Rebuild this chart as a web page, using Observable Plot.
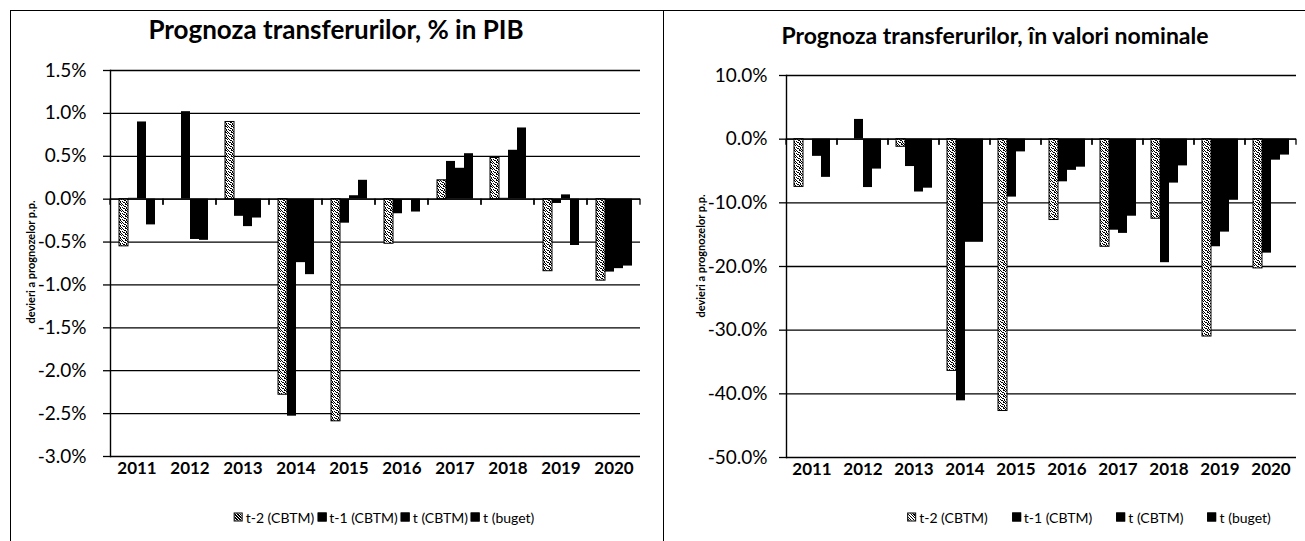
<!DOCTYPE html>
<html>
<head>
<meta charset="utf-8">
<script src="https://cdn.jsdelivr.net/npm/d3@7"></script>
<script src="https://cdn.jsdelivr.net/npm/@observablehq/plot@0.6"></script>
<style>
  html, body { margin: 0; padding: 0; background: #fff; }
  #page { position: relative; width: 1305px; height: 541px; overflow: hidden; font-family: Lato, "Open Sans", sans-serif; color: #000; }
  .panel { position: absolute; box-sizing: border-box; }
  .chart { position: absolute; top: 0; }
  .title { position: absolute; font-weight: 700; white-space: nowrap; transform: translate(-50%, -50%); }
  .ytitle { position: absolute; font-weight: 700; font-size: 11px; white-space: nowrap; transform: translate(-50%, -50%) rotate(-90deg); }
  .legend { position: absolute; display: flex; align-items: center; font-size: 14px; white-space: nowrap; transform: translate(-50%, -50%); }
  .legend .item { display: flex; align-items: center; }
  .legend .sw { flex: 0 0 auto; display: inline-block; width: 9px; height: 9px; margin-right: 3px; box-sizing: border-box; border: 1px solid #000; }
</style>
</head>
<body>
<svg width="0" height="0" style="position:absolute">
  <defs>
    <pattern id="speckle" patternUnits="userSpaceOnUse" width="6" height="6">
      <rect width="6" height="6" fill="#fff"></rect>
      <rect x="0" y="0" width="1" height="1" fill="#000"></rect>
      <rect x="3" y="0" width="2" height="1" fill="#000"></rect>
      <rect x="1" y="1" width="1" height="1" fill="#000"></rect>
      <rect x="5" y="1" width="1" height="1" fill="#000"></rect>
      <rect x="2" y="2" width="2" height="1" fill="#000"></rect>
      <rect x="0" y="3" width="1" height="1" fill="#000"></rect>
      <rect x="4" y="3" width="1" height="2" fill="#000"></rect>
      <rect x="1" y="4" width="2" height="1" fill="#000"></rect>
      <rect x="3" y="5" width="1" height="1" fill="#000"></rect>
      <rect x="5" y="5" width="1" height="1" fill="#000"></rect>
    </pattern>
  </defs>
</svg>
<div id="page"></div>
<script>
// ---------- data ----------
const years = [2011, 2012, 2013, 2014, 2015, 2016, 2017, 2018, 2019, 2020];
const series = ["t-2 (CBTM)", "t-1 (CBTM)", "t (CBTM)", "t (buget)"];

// Left chart: % in PIB (p.p. deviations)
const pibT2    = [-0.55, 0.00, 0.90, -2.28, -2.59, -0.52, 0.22, 0.48, -0.84, -0.95];
const pibT1    = [ 0.01, 1.02, -0.20, -2.53, -0.28, -0.17, 0.44, 0.01, -0.05, -0.85];
const pibT     = [ 0.90, -0.47, -0.32, -0.74, 0.04, -0.01, 0.36, 0.57, 0.05, -0.81];
const pibBuget = [-0.30, -0.48, -0.22, -0.88, 0.22, -0.15, 0.53, 0.83, -0.54, -0.78];
const pibTicks = [1.5, 1.0, 0.5, 0.0, -0.5, -1.0, -1.5, -2.0, -2.5, -3.0];

// Right chart: nominal values (%)
const nomT2    = [-7.5, 0.0, -1.2, -36.4, -42.7, -12.7, -16.9, -12.5, -31.0, -20.3];
const nomT1    = [ 0.0, 3.1, -4.3, -41.1, -9.1, -6.7, -14.3, -19.4, -16.9, -17.9];
const nomT     = [-2.7, -7.6, -8.3, -16.2, -2.0, -4.9, -14.8, -6.9, -14.6, -3.3];
const nomBuget = [-6.0, -4.7, -7.7, -16.2, 0.0, -4.4, -12.1, -4.2, -9.6, -2.5];
const nomTicks = [10, 0, -10, -20, -30, -40, -50];

const titleLeft = "Prognoza transferurilor, % in PIB";
const titleRight = "Prognoza transferurilor, în valori nominale";
const yTitle = "devieri a prognozelor p.p.";

// ---------- helpers ----------
function rows(cols) {
  return years.flatMap((yr, i) => series.map((s, k) => ({year: yr, series: s, value: cols[k][i]})));
}
const fmt = d => d.toFixed(1) + "%";

// small Excel-style category tick marks below the zero line at each band edge
function edgeTicks(index, scales, values, dims) {
  const y0 = scales.y(0);
  const g = d3.create("svg:g").attr("stroke", "#000").attr("stroke-width", 1.3);
  for (const x of [dims.marginLeft, dims.width - dims.marginRight]) {
    g.append("line").attr("x1", x).attr("x2", x).attr("y1", y0).attr("y2", y0 + 6);
  }
  return g.node();
}

function chart({data, domain, ticks, width, height, margins, tickPadding}) {
  return Plot.plot({
    width, height, ...margins,
    style: {fontFamily: "Lato, 'Open Sans', sans-serif", fontSize: "19px", color: "#000", background: "transparent", overflow: "visible"},
    fx: {domain: years, padding: 0, label: null},
    x: {domain: series, paddingInner: 0, paddingOuter: 0.77, align: 0.5, axis: null},
    y: {domain, label: null},
    marks: [
      Plot.gridY(ticks, {stroke: "#000", strokeOpacity: 1, strokeWidth: 1.3}),
      Plot.barY(data.filter(d => d.series === series[0]), {fx: "year", x: "series", y: "value", fill: "url(#speckle)", stroke: "#000", strokeWidth: 1}),
      Plot.barY(data.filter(d => d.series !== series[0]), {fx: "year", x: "series", y: "value", fill: "#000"}),
      Plot.ruleY([0], {stroke: "#000", strokeWidth: 1.4}),
      edgeTicks,
      Plot.frame({anchor: "left", facetAnchor: "left", stroke: "#000", strokeWidth: 1.4}),
      Plot.axisY(ticks, {tickSize: 7, tickPadding, tickFormat: fmt, fontSize: 19, stroke: "#000", strokeWidth: 1.3}),
      Plot.axisFx({anchor: "bottom", tickSize: 0, tickPadding: 5, fontSize: 17, fontWeight: "bold", tickFormat: d => String(d), label: null})
    ]
  });
}

// ---------- layout ----------
const page = document.getElementById("page");

function addPanel(left, top, width, height, border) {
  const p = document.createElement("div");
  p.className = "panel";
  Object.assign(p.style, {left: left + "px", top: top + "px", width: width + "px", height: height + "px"}, border);
  page.appendChild(p);
  return p;
}
addPanel(10, 10, 654, 560, {border: "1.4px solid #000"});
addPanel(663, 10, 700, 560, {borderTop: "1.4px solid #000"});

function addText(cls, text, x, y, extra) {
  const d = document.createElement("div");
  d.className = cls;
  d.textContent = text;
  Object.assign(d.style, {left: x + "px", top: y + "px"}, extra || {});
  page.appendChild(d);
  return d;
}

function addLegend(x, y, gap) {
  const lg = document.createElement("div");
  lg.className = "legend";
  Object.assign(lg.style, {left: x + "px", top: y + "px"});
  series.forEach((s, k) => {
    const it = document.createElement("div");
    it.className = "item";
    if (k > 0) it.style.marginLeft = gap + "px";
    const sw = document.createElement("span");
    sw.className = "sw";
    sw.style.background = k === 0 ? "repeating-linear-gradient(45deg,#000 0 1px,#fff 1px 2px)" : "#000";
    const tx = document.createElement("span");
    tx.textContent = s;
    it.appendChild(sw); it.appendChild(tx);
    lg.appendChild(it);
  });
  page.appendChild(lg);
}

// left chart
const left = chart({
  data: rows([pibT2, pibT1, pibT, pibBuget]),
  domain: [-3, 1.5], ticks: pibTicks,
  width: 663, height: 541,
  margins: {marginLeft: 108, marginRight: 22, marginTop: 70, marginBottom: 85},
  tickPadding: 17
});
left.classList.add("chart");
left.style.left = "0px";
page.appendChild(left);

// right chart
const right = chart({
  data: rows([nomT2, nomT1, nomT, nomBuget]),
  domain: [-50, 10], ticks: nomTicks,
  width: 642, height: 541,
  margins: {marginLeft: 122, marginRight: 8, marginTop: 75, marginBottom: 84},
  tickPadding: 12
});
right.classList.add("chart");
right.style.left = "663px";
page.appendChild(right);

addText("title", titleLeft, 336, 29, {fontSize: "26px"});
addText("title", titleRight, 995, 35, {fontSize: "23px"});
addText("ytitle", yTitle, 30, 262);
addText("ytitle", yTitle, 700, 256);
addLegend(384, 517, 3);
addLegend(1089, 517, 24);
</script>
</body>
</html>
